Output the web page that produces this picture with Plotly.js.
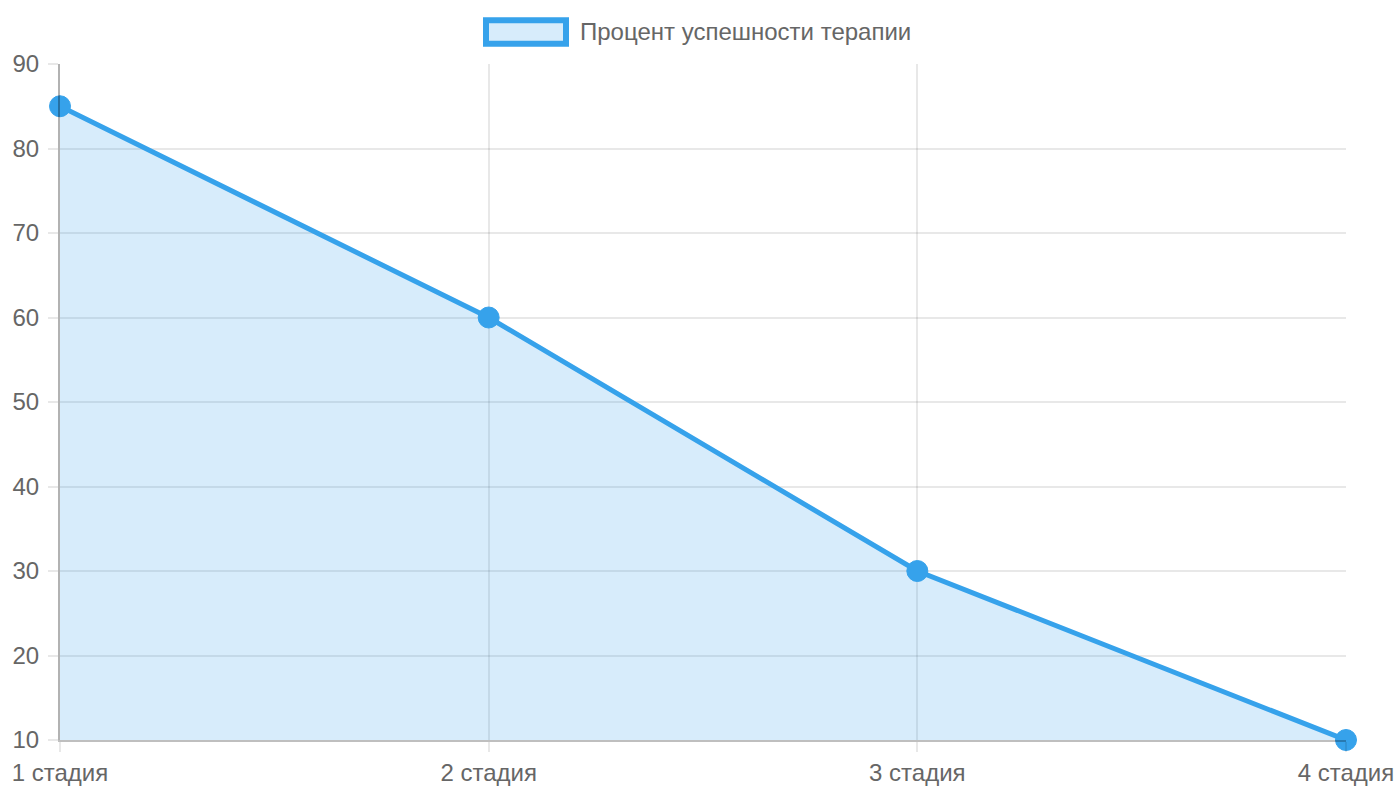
<!DOCTYPE html>
<html>
<head>
<meta charset="utf-8">
<script src="https://cdn.plot.ly/plotly-3.0.1.min.js"></script>
<style>html,body{margin:0;padding:0;background:#fff;}#chart{width:1400px;height:800px;}</style>
</head>
<body>
<div id="chart"></div>
<script>
const categories = ["1 стадия", "2 стадия", "3 стадия", "4 стадия"];
const successRate = [85, 60, 30, 10];
const seriesName = "Процент успешности терапии";
const yTicks = [10, 20, 30, 40, 50, 60, 70, 80, 90];

const blue = "#36A2EB";
const fillBlue = "rgba(54,162,235,0.2)";
const textColor = "#666666";
const fontFamily = "Liberation Sans, Arial, sans-serif";
const fs = 24;

const W = 1400, H = 800, L = 60, R = 54, T = 64, B = 60;
const pw = W - L - R, ph = H - T - B;
const px = v => (v - L) / pw;
const py = v => (H - B - v) / ph;

const trace = {
  x: categories.map((c, i) => i),
  y: successRate,
  type: "scatter",
  mode: "lines+markers",
  name: seriesName,
  fill: "tozeroy",
  fillcolor: fillBlue,
  line: { color: blue, width: 5 },
  marker: { color: blue, size: 21, line: { color: blue, width: 1 } },
  cliponaxis: false,
  hoverinfo: "skip"
};

const gridCol = "rgba(0,0,0,0.09)";

const layout = {
  width: W, height: H,
  margin: { l: L, r: R, t: T, b: B },
  paper_bgcolor: "#fff",
  plot_bgcolor: "#fff",
  showlegend: false,
  font: { family: fontFamily, size: fs, color: textColor },
  xaxis: {
    range: [0, categories.length - 1],
    tickmode: "array",
    tickvals: categories.map((c, i) => i),
    ticktext: categories,
    showgrid: true,
    gridcolor: gridCol,
    gridwidth: 2,
    zeroline: false,
    showline: true,
    linecolor: "rgba(0,0,0,0.25)",
    linewidth: 2,
    ticks: "outside",
    ticklen: 10,
    tickwidth: 2,
    tickcolor: gridCol,
    tickfont: { family: fontFamily, size: fs, color: textColor },
    fixedrange: true
  },
  yaxis: {
    range: [10, 90],
    tickmode: "array",
    tickvals: yTicks,
    ticktext: yTicks.map(String),
    showgrid: true,
    gridcolor: gridCol,
    gridwidth: 2,
    zeroline: false,
    showline: true,
    linecolor: "rgba(0,0,0,0.3)",
    linewidth: 2,
    ticks: "outside",
    ticklen: 10,
    tickwidth: 2,
    tickcolor: gridCol,
    ticklabelstandoff: 4,
    tickfont: { family: fontFamily, size: fs, color: textColor },
    fixedrange: true
  },
  shapes: [{
    type: "rect", xref: "paper", yref: "paper",
    x0: px(486), x1: px(566), y0: py(43.7), y1: py(20.3),
    line: { color: blue, width: 6 },
    fillcolor: fillBlue
  }],
  annotations: [{
    xref: "paper", yref: "paper",
    x: px(578), y: py(32),
    xanchor: "left", yanchor: "middle",
    text: seriesName,
    showarrow: false,
    font: { family: fontFamily, size: fs, color: textColor }
  }]
};

Plotly.newPlot("chart", [trace], layout, { displayModeBar: false, staticPlot: true });
</script>
</body>
</html>
